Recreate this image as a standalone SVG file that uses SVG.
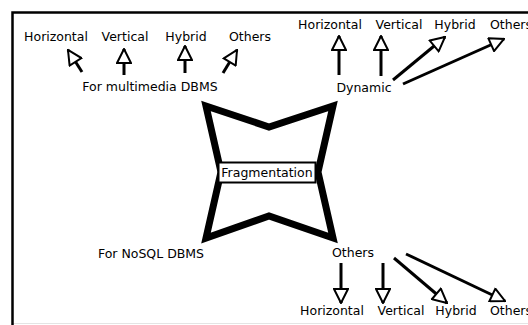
<svg xmlns="http://www.w3.org/2000/svg" width="528" height="325" viewBox="0 0 528 325">
<defs>
<style>
text{font-family:"DejaVu Sans","Liberation Sans",sans-serif;font-size:12.5px;fill:#000;text-anchor:middle}
.arr{stroke:#000;stroke-width:3;fill:none;marker-end:url(#head)}
</style>
<marker id="head" markerUnits="userSpaceOnUse" viewBox="-1 -8 17 16" refX="15" refY="0" markerWidth="17" markerHeight="16" orient="auto">
<path d="M1,-7 L15,0 L1,7 Z" fill="#fff" stroke="#000" stroke-width="2" stroke-linejoin="miter"/>
</marker>
</defs>
<rect width="528" height="325" fill="#fff"/>
<line x1="13" y1="323.5" x2="528" y2="323.5" stroke="#e4e4e4" stroke-width="1"/>
<rect x="12.5" y="12.5" width="540" height="330" fill="none" stroke="#000" stroke-width="2.5"/>
<g id="star">
<polygon points="206,106 269,127 333,106 318,172 333,238 269,216 206,238 221,172" fill="#fff" stroke="#000" stroke-width="7" stroke-linejoin="miter"/>
</g>
<g id="fragmentation">
<rect x="218.5" y="162.5" width="97" height="20" fill="#fff" stroke="#000" stroke-width="2"/>
<text x="267" y="177">Fragmentation</text>
</g>
<g id="multimedia"><text x="150" y="91">For multimedia DBMS</text></g>
<g id="dynamic"><text x="364" y="92">Dynamic</text></g>
<g id="nosql"><text x="151" y="258">For NoSQL DBMS</text></g>
<g id="others-mid"><text x="353" y="257">Others</text></g>
<g id="tl-horizontal"><text x="56" y="41">Horizontal</text></g>
<g id="tl-vertical"><text x="125" y="41">Vertical</text></g>
<g id="tl-hybrid"><text x="186" y="41">Hybrid</text></g>
<g id="tl-others"><text x="250" y="41">Others</text></g>
<g id="tr-horizontal"><text x="330" y="29">Horizontal</text></g>
<g id="tr-vertical"><text x="399" y="29">Vertical</text></g>
<g id="tr-hybrid"><text x="455" y="29">Hybrid</text></g>
<g id="tr-others"><text x="511" y="29">Others</text></g>
<g id="br-horizontal"><text x="332" y="315">Horizontal</text></g>
<g id="br-vertical"><text x="401" y="315">Vertical</text></g>
<g id="br-hybrid"><text x="456" y="315">Hybrid</text></g>
<g id="br-others"><text x="511" y="315">Others</text></g>
<g id="connectors">
<line class="arr" x1="82" y1="72" x2="68" y2="50"/>
<line class="arr" x1="124" y1="75" x2="124" y2="49"/>
<line class="arr" x1="185" y1="73" x2="185" y2="46"/>
<line class="arr" x1="223" y1="73" x2="237" y2="50"/>
<line class="arr" x1="339" y1="75" x2="339" y2="36"/>
<line class="arr" x1="381" y1="76" x2="381" y2="36"/>
<line class="arr" x1="393" y1="80" x2="445" y2="37"/>
<line class="arr" x1="403" y1="84" x2="504" y2="39"/>
<line class="arr" x1="341" y1="263" x2="341" y2="303"/>
<line class="arr" x1="383" y1="263" x2="383" y2="303"/>
<line class="arr" x1="394" y1="258" x2="447" y2="303"/>
<line class="arr" x1="406" y1="254" x2="505" y2="301"/>
</g>
</svg>
